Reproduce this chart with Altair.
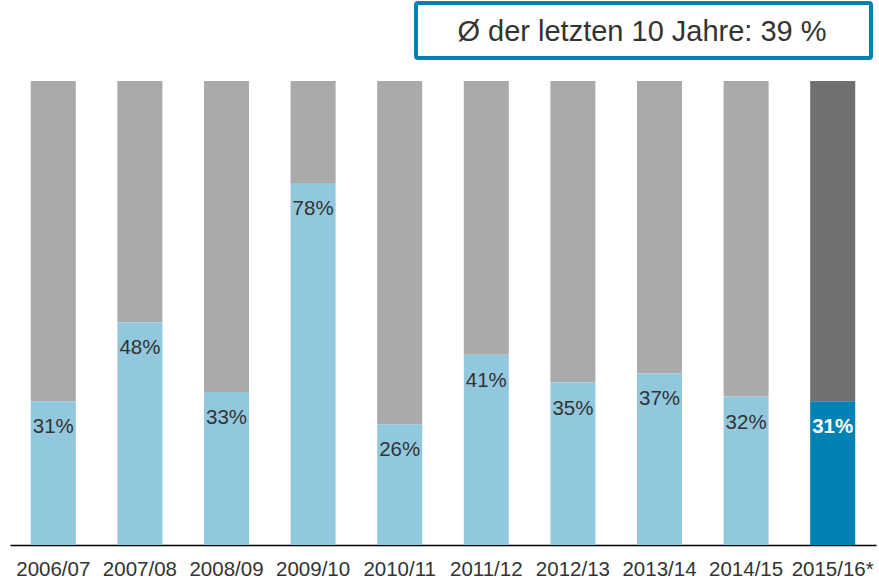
import altair as alt
import pandas as pd

years = ["2006/07", "2007/08", "2008/09", "2009/10", "2010/11",
         "2011/12", "2012/13", "2013/14", "2014/15", "2015/16*"]
shares = [31, 48, 33, 78, 26, 41, 35, 37, 32, 31]
total = [100] * len(years)
labels = [f"{v}%" for v in shares]
box_text = "Ø der letzten 10 Jahre: 39 %"

df = pd.DataFrame({"year": years, "share": shares, "total": total, "label": labels})

FONT = "Liberation Sans"
last = alt.datum.year == "2015/16*"

x = alt.X("year:N", sort=years, title=None,
          scale=alt.Scale(paddingInner=0.48, paddingOuter=0.24),
          axis=alt.Axis(labelAngle=0, labelFontSize=20.5, labelColor="#333333",
                        labelFont=FONT, ticks=False, labelPadding=14,
                        domainColor="#000000", domainWidth=1.5, grid=False))
yscale = alt.Scale(domain=[0, 100], nice=False)

base = alt.Chart(df)

gray = base.mark_bar().encode(
    x=x,
    y=alt.Y("share:Q", scale=yscale, axis=None),
    y2="total:Q",
    color=alt.condition(last, alt.value("#707070"), alt.value("#AAAAAA")),
)
blue = base.mark_bar().encode(
    x=x,
    y=alt.Y("share:Q", scale=yscale, axis=None),
    y2=alt.datum(0),
    color=alt.condition(last, alt.value("#0082B4"), alt.value("#92C8DD")),
)
txt = base.transform_filter(~last).mark_text(
    fontSize=20.5, font=FONT, dy=26, baseline="middle", color="#333333"
).encode(
    x=x,
    y=alt.Y("share:Q", scale=yscale, axis=None),
    text="label:N",
)
txt_last = base.transform_filter(last).mark_text(
    fontSize=20.5, font=FONT, dy=26, baseline="middle", color="#FFFFFF", fontWeight="bold"
).encode(
    x=x,
    y=alt.Y("share:Q", scale=yscale, axis=None),
    text="label:N",
)

box = alt.Chart(pd.DataFrame({"t": [box_text]})).mark_rect(
    fill="white", stroke="#0082B4", strokeWidth=4, cornerRadius=2
).encode(x=alt.value(406), x2=alt.value(861), y=alt.value(-78), y2=alt.value(-23))
box_label = alt.Chart(pd.DataFrame({"t": [box_text]})).mark_text(
    fontSize=29, font=FONT, color="#333333", baseline="middle", align="center"
).encode(x=alt.value(632), y=alt.value(-49), text="t:N")

chart = alt.layer(gray, blue, txt, txt_last, box, box_label).properties(
    width=866, height=464,
    autosize=alt.AutoSizeParams(type="none"),
    padding={"left": 10, "top": 81, "right": 3, "bottom": 34},
).configure_view(stroke=None)

chart.save("out.html", embed_options={"renderer": "svg", "actions": False})
